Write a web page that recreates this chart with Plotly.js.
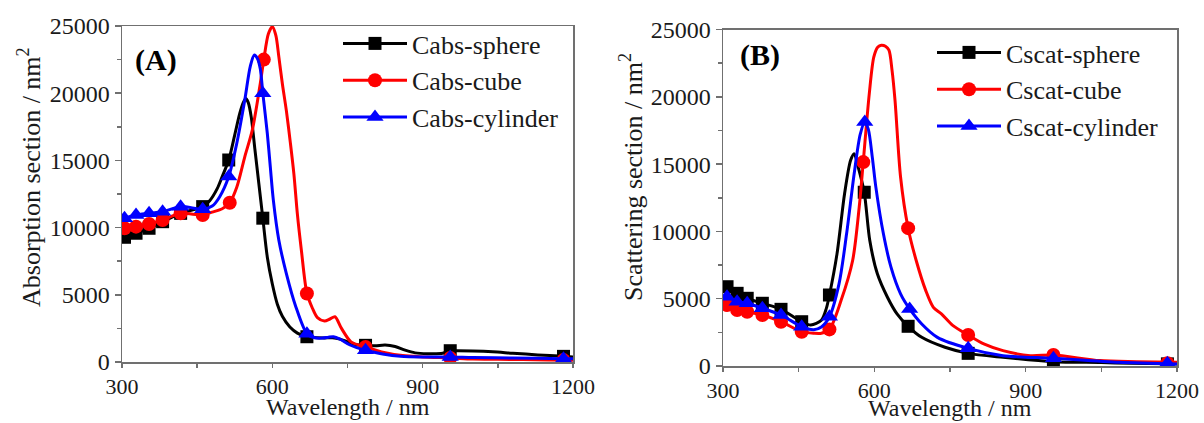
<!DOCTYPE html>
<html><head><meta charset="utf-8">
<script src="https://cdn.plot.ly/plotly-3.0.1.min.js"></script>
<style>html,body{margin:0;padding:0;background:#fff}</style>
</head><body><div id="chart" style="width:1204px;height:423px"></div>
<script>
// ---------- Panel A : absorption (dense curves) ----------
const absSphereWl = [300,305,328,354,381,417,461,475,490,500,513,525,535,542,547,552,558,565,573,581,590,600,610,620,635,650,669,690,705,720,735,750,765,786,805,825,845,865,885,910,940,955,970,1000,1040,1080,1130,1181,1200];
const absSphereV  = [9150,9280,9580,9950,10440,11060,11560,12000,12900,13800,15030,16900,18500,19300,19600,19300,18200,15900,13300,10700,7800,5800,4300,3400,2600,2150,1880,1800,1790,1800,1700,1500,1300,1240,1200,1260,1150,880,680,620,650,840,840,820,760,650,530,420,380];
const absCubeWl = [300,305,328,354,381,417,461,480,500,515,529,545,560,575,583,592,600,607,613,620,628,636,643,650,658,669,680,690,704,715,725,738,757,786,818,860,900,955,1000,1050,1100,1150,1200];
const absCubeV  = [9700,9950,10070,10270,10570,11060,10940,11150,11400,11850,13000,15270,17250,20500,22500,24400,24950,24300,22700,20700,18700,16300,14000,11000,8300,5100,4000,3300,3050,3200,3370,2500,1500,1120,750,480,380,300,220,200,180,150,130];
const absCylWl = [300,305,328,354,381,417,461,480,495,513,529,545,556,564,570,576,581,590,596,602,613,628,647,669,685,700,712,722,735,755,786,820,856,900,955,1000,1080,1181,1200];
const absCylV  = [10600,10690,10940,11060,11180,11560,11360,11600,12300,13800,16260,19490,22000,22840,22600,21800,20000,17000,14500,12040,9060,6580,4100,2110,1800,1780,1850,1880,1700,1265,870,600,420,370,380,330,300,250,240];
// Panel A markers
const absSphereMkWl = [305,328,354,381,417,461,513,581,669,786,955,1181];
const absSphereMkV  = [9280,9580,9950,10440,11060,11560,15030,10700,1880,1240,840,420];
const absCubeMkWl = [305,328,354,381,417,461,515,583,669,786,955,1181];
const absCubeMkV  = [9950,10070,10270,10570,11060,10940,11850,22500,5100,1120,300,140];
const absCylMkWl = [305,328,354,381,417,461,513,581,669,786,955,1181];
const absCylMkV  = [10690,10940,11060,11180,11560,11360,13800,20000,2110,870,380,250];

// ---------- Panel B : scattering (dense curves) ----------
const scaSphereWl = [300,308,328,348,378,415,456,474,495,505,511,526,541,553,560,568,580,591,606,626,645,667,694,740,786,855,955,1050,1108,1181,1200];
const scaSphereV  = [5950,5890,5400,5030,4660,4210,3290,3050,3400,4300,5275,8330,12800,15280,15770,14780,12900,9320,6850,5110,3870,2950,2130,1390,940,645,320,260,200,160,150];
const scaCubeWl = [300,308,328,348,378,415,456,480,495,511,534,557,570,578,590,599,607,614,622,629,635,641,652,667,683,702,717,733,756,786,817,855,909,955,1047,1120,1200];
const scaCubeV  = [4600,4530,4160,4030,3790,3290,2550,2430,2430,2720,4860,7840,11800,15150,20240,22960,23700,23830,23750,23460,22000,19740,14040,10240,7840,5600,4360,3870,3000,2300,1640,1140,770,820,400,320,270];
const scaCylWl = [300,308,328,348,378,415,456,480,495,511,530,545,560,572,581,588,596,603,618,633,652,670,694,725,786,855,955,1085,1200];
const scaCylV  = [5250,5150,4780,4660,4290,3790,2920,2700,2900,3660,6100,9820,14280,17200,18130,17600,15500,13290,9820,7340,5360,4240,3120,2130,1310,770,570,270,150];
// Panel B markers
const scaSphereMkWl = [308,328,348,378,415,456,511,580,667,786,955,1181];
const scaSphereMkV  = [5890,5400,5030,4660,4210,3290,5275,12900,2950,940,320,160];
const scaCubeMkWl = [308,328,348,378,415,456,511,578,667,786,955,1181];
const scaCubeMkV  = [4530,4160,4030,3790,3290,2550,2720,15150,10240,2300,820,200];
const scaCylMkWl = [308,328,348,378,415,456,511,581,670,786,955,1181];
const scaCylMkV  = [5150,4780,4660,4290,3790,2920,3660,18130,4240,1310,570,200];

const namesA = ['Cabs-sphere','Cabs-cube','Cabs-cylinder'];
const namesB = ['Cscat-sphere','Cscat-cube','Cscat-cylinder'];
const xTicks = [300,600,900,1200];
const yTicks = [0,5000,10000,15000,20000,25000];
const xTitle = 'Wavelength / nm';
const yTitleA = 'Absorption section / nm<sup>2</sup>';
const yTitleB = 'Scattering section / nm<sup>2</sup>';

const colors = ['#000000','#ff0000','#0000ff'];
const symbols = ['square','circle','triangle-up'];
const msizes = [13,14,15];
const FONT = '"Liberation Serif", "Times New Roman", serif';

const traces = [];
function addSeries(i, wl, v, mkWl, mkV, name, xa, ya, leg){
  traces.push({x: wl, y: v, xaxis: xa, yaxis: ya, mode: 'lines', type: 'scatter',
    line: {color: colors[i], width: 3, shape: 'spline', smoothing: 0.8},
    showlegend: false, hoverinfo: 'skip'});
  traces.push({x: mkWl, y: mkV, xaxis: xa, yaxis: ya, mode: 'markers', type: 'scatter',
    marker: {color: colors[i], symbol: symbols[i], size: msizes[i], line: {width: 0}},
    showlegend: false, hoverinfo: 'skip'});
  traces.push({x: [null], y: [null], xaxis: xa, yaxis: ya, mode: 'lines+markers', type: 'scatter',
    name: name, legend: leg,
    line: {color: colors[i], width: 3},
    marker: {color: colors[i], symbol: symbols[i], size: msizes[i], line: {width: 0}}});
}
addSeries(0, absSphereWl, absSphereV, absSphereMkWl, absSphereMkV, namesA[0], 'x', 'y', 'legend');
addSeries(1, absCubeWl, absCubeV, absCubeMkWl, absCubeMkV, namesA[1], 'x', 'y', 'legend');
addSeries(2, absCylWl, absCylV, absCylMkWl, absCylMkV, namesA[2], 'x', 'y', 'legend');
addSeries(0, scaSphereWl, scaSphereV, scaSphereMkWl, scaSphereMkV, namesB[0], 'x2', 'y2', 'legend2');
addSeries(1, scaCubeWl, scaCubeV, scaCubeMkWl, scaCubeMkV, namesB[1], 'x2', 'y2', 'legend2');
addSeries(2, scaCylWl, scaCylV, scaCylMkWl, scaCylMkV, namesB[2], 'x2', 'y2', 'legend2');

const W = 1204, H = 423;
const axColor = '#707070';
function xax(dom){
  return {domain: dom, range: [300,1200], tickvals: xTicks, ticktext: xTicks.map(String),
    ticks: 'outside', ticklen: 4, tickwidth: 1.5, tickcolor: axColor,
    minor: {dtick: 150, tick0: 300, ticks: 'outside', ticklen: 4, tickwidth: 1.5, tickcolor: axColor},
    showline: true, linecolor: axColor, linewidth: 1.5, mirror: true,
    showgrid: false, zeroline: false, fixedrange: true,
    tickfont: {family: FONT, size: 22, color: '#1a1a1a'}};
}
function yax(dom, xa){
  return {domain: dom, range: [0,25000], tickvals: yTicks, ticktext: yTicks.map(String), anchor: xa,
    ticks: 'outside', ticklen: 6, tickwidth: 1.5, tickcolor: axColor,
    minor: {dtick: 2500, tick0: 0, ticks: 'outside', ticklen: 4, tickwidth: 1.5, tickcolor: axColor},
    showline: true, linecolor: axColor, linewidth: 1.5, mirror: true,
    showgrid: false, zeroline: false, fixedrange: true,
    tickfont: {family: FONT, size: 24, color: '#1a1a1a'}};
}
const titleFont = {family: FONT, size: 26, color: '#1a1a1a'};
const xTitleFont = {family: FONT, size: 24, color: '#1a1a1a'};
const layout = {
  width: W, height: H, margin: {l: 0, r: 0, t: 0, b: 0},
  paper_bgcolor: '#fff', plot_bgcolor: '#fff',
  font: {family: FONT, color: '#1a1a1a'},
  xaxis: Object.assign(xax([122/W, 573/W]), {anchor: 'y'}),
  yaxis: yax([1-362/H, 1-26/H], 'x'),
  xaxis2: Object.assign(xax([723/W, 1177/W]), {anchor: 'y2'}),
  yaxis2: yax([1-366/H, 1-29.5/H], 'x2'),
  legend: {x: 338/W, y: 1-20/H, xanchor: 'left', yanchor: 'top', bgcolor: 'rgba(0,0,0,0)',
    font: {family: FONT, size: 26, color: '#1a1a1a'}, itemwidth: 64, tracegroupgap: 0},
  legend2: {x: 932/W, y: 1-29/H, xanchor: 'left', yanchor: 'top', bgcolor: 'rgba(0,0,0,0)',
    font: {family: FONT, size: 26, color: '#1a1a1a'}, itemwidth: 64, tracegroupgap: 0},
  annotations: [
    {text: '<b>(A)</b>', xref: 'paper', yref: 'paper', x: 156/W, y: 1-60/H, xanchor: 'center', yanchor: 'middle',
     showarrow: false, font: {family: FONT, size: 30, color: '#000'}},
    {text: '<b>(B)</b>', xref: 'paper', yref: 'paper', x: 760/W, y: 1-55/H, xanchor: 'center', yanchor: 'middle',
     showarrow: false, font: {family: FONT, size: 30, color: '#000'}},
    {text: yTitleA, xref: 'paper', yref: 'paper', x: 29/W, y: 1-177/H,
     xanchor: 'center', yanchor: 'middle', textangle: -90, showarrow: false, font: titleFont},
    {text: yTitleB, xref: 'paper', yref: 'paper', x: 631/W, y: 1-177/H,
     xanchor: 'center', yanchor: 'middle', textangle: -90, showarrow: false, font: titleFont},
    {text: xTitle, xref: 'paper', yref: 'paper', x: 348/W, y: 0, yshift: 1,
     xanchor: 'center', yanchor: 'bottom', showarrow: false, font: xTitleFont},
    {text: xTitle, xref: 'paper', yref: 'paper', x: 950/W, y: 0, yshift: 0,
     xanchor: 'center', yanchor: 'bottom', showarrow: false, font: xTitleFont}
  ]
};
Plotly.newPlot('chart', traces, layout, {displayModeBar: false, staticPlot: true});
</script></body></html>
